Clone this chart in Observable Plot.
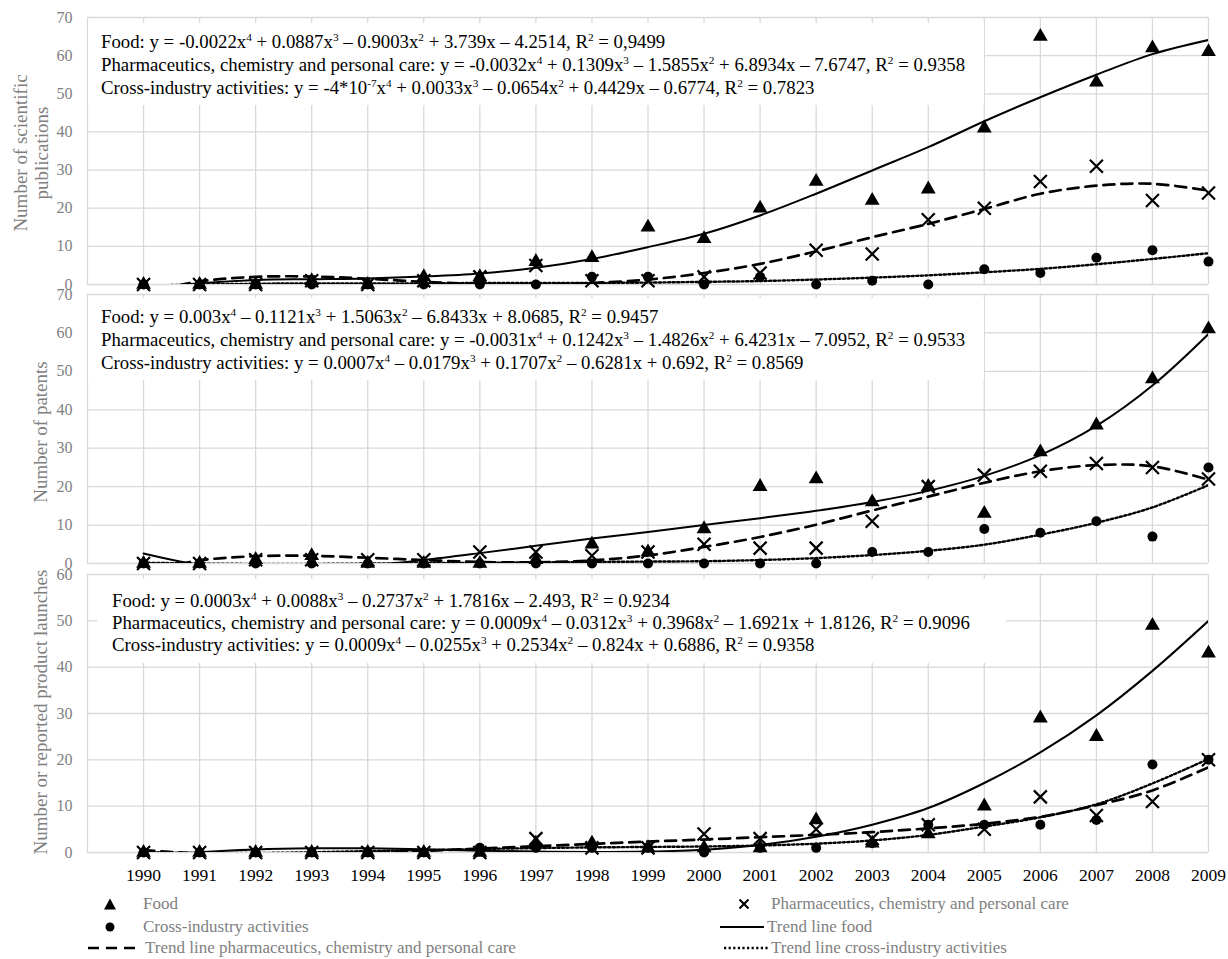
<!DOCTYPE html>
<html><head><meta charset="utf-8">
<script src="https://cdn.jsdelivr.net/npm/d3@7"></script>
<script src="https://cdn.jsdelivr.net/npm/@observablehq/plot@0.6"></script>
<style>
body{margin:0;background:#fff;}
#root{position:relative;width:1228px;height:959px;overflow:hidden;font-family:"Liberation Serif","Times New Roman",serif;background:#fff;}
.panel{position:absolute;left:0;}
.panel svg{overflow:visible;}
.eq{position:absolute;background:#fff;color:#000;font-size:18.8px;white-space:nowrap;box-sizing:border-box;}
.eq div{height:23px;line-height:23px;}
.eq.b div{height:22px;line-height:22px;}
.eq sup{font-size:60%;vertical-align:0;position:relative;top:-0.65em;}
.ytitle{position:absolute;color:#7f7f7f;font-size:19px;transform:translate(-50%,-50%) rotate(-90deg);white-space:nowrap;text-align:center;line-height:21px;}
.leg{position:absolute;color:#7f7f7f;font-size:17px;white-space:nowrap;display:flex;align-items:center;transform:translateY(-50%);}
.leg svg{display:block;}
</style></head><body><div id="root"></div>
<script>
// ---------- data ----------
const years = [1990,1991,1992,1993,1994,1995,1996,1997,1998,1999,2000,2001,2002,2003,2004,2005,2006,2007,2008,2009];
const gridYears = [1989,1990,1991,1992,1993,1994,1995,1996,1997,1998,1999,2000,2001,2002,2003,2004,2005,2006,2007,2008,2009];

// Scientific publications
const pubFood   = [0,0,0,1,0,2,2,6,7,15,12,20,27,22,25,41,65,53,62,61];
const pubPharma = [0,0,0,1,0,1,2,5,1,1,2,3,9,8,17,20,27,31,22,24];
const pubCross  = [0,0,0,0,0,0,0,0,2,2,0,2,0,1,0,4,3,7,9,6];
const pubTrendFood   = [-1.3,0.3,1.2,1.4,1.6,2.1,2.9,4.4,6.7,9.8,13.3,18.1,23.8,29.9,36.0,42.8,49.1,55.0,60.4,64.1];
const pubTrendPharma = [-2.2,0.8,2.0,2.1,1.5,0.7,0.1,-0.1,0.4,1.3,3.0,5.4,8.7,12.4,15.9,19.8,23.8,25.9,26.4,24.6];
const pubTrendCross  = [-0.3,0,0.2,0.3,0.3,0.3,0.4,0.4,0.4,0.5,0.7,0.9,1.3,1.8,2.4,3.2,4.1,5.3,6.7,8.2];

// Patents
const patFood   = [0,0,1,2,0,0,0,1,5,3,9,20,22,16,20,13,29,36,48,61];
const patPharma = [0,0,1,1,1,1,3,3,2,3,5,4,4,11,20,23,24,26,25,22];
const patCross  = [0,0,0,0,0,0,0,0,0,0,0,0,0,3,3,9,8,11,7,25];
const patTrendFood   = [2.6,-0.4,-1.7,-1.6,-0.6,0.9,2.7,4.6,6.5,8.2,10.0,11.8,13.7,16.0,18.9,22.8,28.2,35.8,46.3,59.7];
const patTrendPharma = [-2.0,0.8,1.9,2.0,1.5,0.9,0.4,0.3,0.8,2.1,4.3,6.9,10.1,13.8,17.4,21.0,24.0,25.6,25.3,21.8];
const patTrendCross  = [0.2,0,-0.1,-0.1,0,0.1,0.2,0.3,0.4,0.5,0.6,0.9,1.4,2.2,3.3,4.9,7.5,10.6,14.6,20.4];

// Product launches
const lauFood   = [0,0,0,0,0,0,0,2,2,1,1,1,7,2,4,10,29,25,49,43];
const lauPharma = [0,0,0,0,0,0,0,3,1,1,4,3,5,3,6,5,12,8,11,20];
const lauCross  = [0,0,0,0,0,0,1,1,1,1,0,1,1,2,6,6,6,7,19,20];
const lauTrendFood   = [-1.0,0.05,0.65,0.9,0.9,0.7,0.4,0.2,0.1,0.2,0.6,1.6,3.4,6.0,9.6,15.0,21.6,29.6,39.2,50.0];
const lauTrendPharma = [0.5,-0.2,-0.45,-0.35,-0.05,0.35,0.85,1.35,1.85,2.35,2.8,3.3,3.8,4.4,5.2,6.2,7.7,10.2,13.4,18.4];
const lauTrendCross  = [0.1,-0.1,-0.1,0.05,0.3,0.5,0.75,0.95,1.1,1.2,1.3,1.5,1.9,2.6,3.8,5.6,7.6,10.4,14.9,20.2];

// Texts
const yTitles = ["Number of scientific\npublications", "Number of patents", "Number or reported product launches"];
const pubEq = [
  "Food: y = -0.0022x^4 + 0.0887x^3 – 0.9003x^2 + 3.739x – 4.2514, R^2 = 0,9499",
  "Pharmaceutics, chemistry and personal care: y = -0.0032x^4 + 0.1309x^3 – 1.5855x^2 + 6.8934x – 7.6747, R^2 = 0.9358",
  "Cross-industry activities: y = -4*10^-7x^4 + 0.0033x^3 – 0.0654x^2 + 0.4429x – 0.6774, R^2 = 0.7823"
];
const patEq = [
  "Food: y = 0.003x^4 – 0.1121x^3 + 1.5063x^2 – 6.8433x + 8.0685, R^2 = 0.9457",
  "Pharmaceutics, chemistry and personal care: y = -0.0031x^4 + 0.1242x^3 – 1.4826x^2 + 6.4231x – 7.0952, R^2 = 0.9533",
  "Cross-industry activities: y = 0.0007x^4 – 0.0179x^3 + 0.1707x^2 – 0.6281x + 0.692, R^2 = 0.8569"
];
const lauEq = [
  "Food: y = 0.0003x^4 + 0.0088x^3 – 0.2737x^2 + 1.7816x – 2.493, R^2 = 0.9234",
  "Pharmaceutics, chemistry and personal care: y = 0.0009x^4 – 0.0312x^3 + 0.3968x^2 – 1.6921x + 1.8126, R^2 = 0.9096",
  "Cross-industry activities: y = 0.0009x^4 – 0.0255x^3 + 0.2534x^2 – 0.824x + 0.6886, R^2 = 0.9358"
];
const legendLabels = ["Food","Pharmaceutics, chemistry and personal care","Cross-industry activities","Trend line food","Trend line pharmaceutics, chemistry and personal care","Trend line cross-industry activities"];

// ---------- drawing ----------
const root = document.getElementById("root");
const FONT = '"Liberation Serif","Times New Roman",serif';
const xSym = {draw(ctx, size){const r = Math.sqrt(size/Math.PI); ctx.moveTo(-r,-r); ctx.lineTo(r,r); ctx.moveTo(r,-r); ctx.lineTo(-r,r);}};

function panel(p){
  const rows = years.map((yr,i)=>({yr, food:p.food[i], pharma:p.pharma[i], cross:p.cross[i], tf:p.tf[i], tp:p.tp[i], tc:p.tc[i]}));
  const yt = d3.range(0, p.ymax+1, 10);
  const marks = [
    Plot.gridX(gridYears, {stroke:"#d9d9d9", strokeOpacity:1, strokeWidth:1.3}),
    Plot.gridY(yt, {stroke:"#d9d9d9", strokeOpacity:1, strokeWidth:1.3}),
    Plot.axisY(yt, {tickSize:0, tickPadding:15, fill:"#7f7f7f", fontSize:16, label:null}),
    Plot.dot(rows, {x:"yr", y:"cross", r:5, fill:"#000"}),
    Plot.dot(rows, {x:"yr", y:"pharma", symbol:xSym, r:6.5, stroke:"#000", strokeWidth:2.2, fill:"none"}),
    Plot.dot(rows, {x:"yr", y:"food", symbol:"triangle", r:5.5, fill:"#000", stroke:"none"}),
    Plot.line(rows, {x:"yr", y:"tc", curve:"catmull-rom", stroke:"#000", strokeWidth:2.4, strokeDasharray:"2.2,2.4", clip:"frame"}),
    Plot.line(rows, {x:"yr", y:"tp", curve:"catmull-rom", stroke:"#000", strokeWidth:2.7, strokeDasharray:"11,7", clip:"frame"}),
    Plot.line(rows, {x:"yr", y:"tf", curve:"catmull-rom", stroke:"#000", strokeWidth:2, clip:"frame"})
  ];
  if (p.xAxis) marks.push(Plot.axisX(years, {tickSize:0, tickPadding:16, fontSize:17.5, fill:"#000", tickFormat:d=>String(d), label:null}));
  const chart = Plot.plot({
    width:1228, height:p.mTop+p.plotH+p.mBottom,
    marginLeft:87, marginRight:20, marginTop:p.mTop, marginBottom:p.mBottom,
    style:{fontFamily:FONT, background:"transparent", overflow:"visible"},
    x:{domain:[1989,2009], label:null, axis:null},
    y:{domain:[0,p.ymax], label:null, axis:null},
    marks
  });
  const div = document.createElement("div");
  div.className = "panel"; div.style.top = p.top+"px";
  div.appendChild(chart); root.appendChild(div);
}

panel({food:pubFood, pharma:pubPharma, cross:pubCross, tf:pubTrendFood, tp:pubTrendPharma, tc:pubTrendCross, ymax:70, top:0, mTop:17, plotH:267, mBottom:10});
panel({food:patFood, pharma:patPharma, cross:patCross, tf:patTrendFood, tp:patTrendPharma, tc:patTrendCross, ymax:70, top:284, mTop:10, plotH:269, mBottom:10});
panel({food:lauFood, pharma:lauPharma, cross:lauCross, tf:lauTrendFood, tp:lauTrendPharma, tc:lauTrendCross, ymax:60, top:563, mTop:11, plotH:278, mBottom:40, xAxis:true});

function fmt(s){ return s.replace(/\^(-?\d+)/g, (m,g)=>"<sup>"+g+"</sup>"); }
function eqBox(lines, left, top, right, bottom, padL, padT, cls){
  const d = document.createElement("div");
  d.className = "eq" + (cls ? " "+cls : "");
  Object.assign(d.style, {left:left+"px", top:top+"px", width:(right-left)+"px", height:(bottom-top)+"px", paddingLeft:padL+"px", paddingTop:padT+"px"});
  d.innerHTML = lines.map(l=>"<div>"+fmt(l)+"</div>").join("");
  root.appendChild(d);
}
eqBox(pubEq, 88, 23, 984, 105, 13, 7);
eqBox(patEq, 88, 298, 984, 380, 13, 7);
eqBox(lauEq, 97, 579, 1006, 663, 15, 11, "b");

function yTitle(text, cx, cy){
  const d = document.createElement("div");
  d.className = "ytitle";
  d.style.left = cx+"px"; d.style.top = cy+"px";
  d.innerHTML = text.split("\n").join("<br>");
  root.appendChild(d);
}
yTitle(yTitles[0], 31, 153);
yTitle(yTitles[1], 40, 432);
yTitle(yTitles[2], 40, 712);

// legend
const sw = {
  tri:'<svg width="14" height="14"><path d="M7,1.5 L13,12.5 L1,12.5 Z" fill="#000"/></svg>',
  x:'<svg width="14" height="14"><path d="M2.5,2.5 L11.5,11.5 M11.5,2.5 L2.5,11.5" stroke="#000" stroke-width="2"/></svg>',
  dot:'<svg width="14" height="14"><circle cx="7" cy="7" r="4.5" fill="#000"/></svg>',
  solid:'<svg width="44" height="8"><line x1="0" y1="4" x2="44" y2="4" stroke="#000" stroke-width="2"/></svg>',
  dash:'<svg width="54" height="8"><line x1="0" y1="4" x2="54" y2="4" stroke="#000" stroke-width="2.7" stroke-dasharray="11,7"/></svg>',
  dotl:'<svg width="44" height="8"><line x1="0" y1="4" x2="44" y2="4" stroke="#000" stroke-width="2.4" stroke-dasharray="2.2,2.4"/></svg>'
};
function legItem(svg, label, left, cy, gap){
  const d = document.createElement("div");
  d.className = "leg";
  d.style.left = left+"px"; d.style.top = cy+"px";
  d.innerHTML = svg.replace('<svg', '<svg style="margin-right:'+gap+'px"') + "<span>"+label+"</span>";
  root.appendChild(d);
}
legItem(sw.tri, legendLabels[0], 103, 904, 26);
legItem(sw.x, legendLabels[1], 737, 904, 20);
legItem(sw.dot, legendLabels[2], 103, 927, 26);
legItem(sw.solid, legendLabels[3], 720, 927, 3);
legItem(sw.dash, legendLabels[4], 88, 948, 3);
legItem(sw.dotl, legendLabels[5], 724, 948, 3);
</script></body></html>
